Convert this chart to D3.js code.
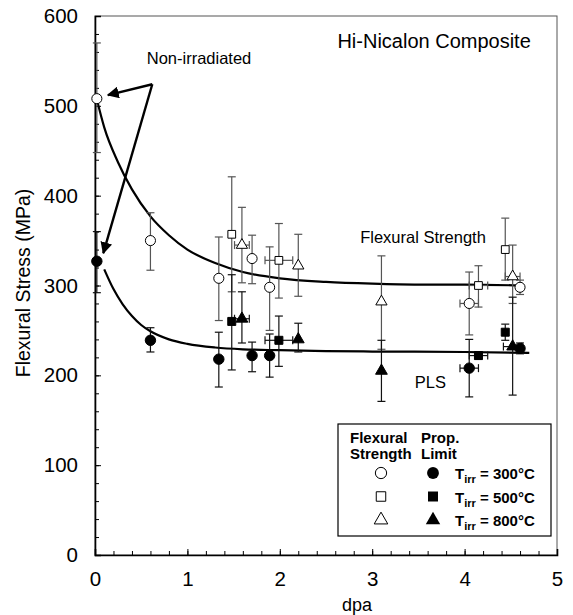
<!DOCTYPE html>
<html>
<head>
<meta charset="utf-8">
<script src="https://cdn.jsdelivr.net/npm/d3@7"></script>
<style>
  body { margin: 0; background: #fff; }
  text { font-family: "Liberation Sans", Arial, sans-serif; }
</style>
</head>
<body>
<div id="plot"></div>
<script>
// data: [dpa, stress, error low, error high]
var fsCircle = [[0.02,508,448,570],[0.6,350,317,381],[1.34,308,261,354],[1.7,330,302,356],[1.89,298,250,343],[4.05,280,245,315],[4.6,298,290,306]];
var fsCircleXerr = [0,0,0,0,0,0.1,0];
var plCircle = [[0.02,327,292,360],[0.6,239,226,253],[1.34,218,187,248],[1.7,222,204,237],[1.89,222,198,246],[4.05,208,176,240],[4.6,230,224,236]];
var plCircleXerr = [0,0,0,0,0,0.1,0];
var fsSquare = [[1.48,357,293,421],[1.99,328,286,369],[4.15,300,276,322],[4.44,340,306,375]];
var fsSquareXerr = [0,0.15,0.1,0];
var plSquare = [[1.48,260,206,312],[1.99,239,210,266],[4.15,222,218,226],[4.44,248,239,257]];
var plSquareXerr = [0,0.15,0.1,0];
var fsTri = [[1.59,345,303,387],[2.2,322,288,357],[3.1,282,229,333],[4.52,310,280,345]];
var fsTriXerr = [0.08,0,0,0.08];
var plTri = [[1.59,263,236,293],[2.2,240,226,258],[3.1,205,171,239],[4.52,232,178,287]];
var plTriXerr = [0.08,0,0,0.1];

// fitted curves, points
var fsCurveX = [0.02,0.1,0.25,0.4,0.6,0.8,1.0,1.3,1.6,2.0,2.5,3.0,3.5,4.0,4.6];
var fsCurveY = [507,476,437,407,377,356,340,325,315,308,304,302,301,301,300];
var plCurveX = [0.1,0.2,0.3,0.4,0.5,0.6,0.8,1.0,1.3,1.6,2.0,2.5,3.0,4.0,4.7];
var plCurveY = [318,296,279,266,256,249,240,235,231,229,228,227,226.5,226,225];

var xTicks = [0,1,2,3,4,5];
var yTicks = [0,100,200,300,400,500,600];
var legendRows = ["300°C","500°C","800°C"];

// set the dimensions and margins of the graph
var margin = {top: 16, right: 16, bottom: 60, left: 95},
    width = 573 - margin.left - margin.right,
    height = 615 - margin.top - margin.bottom;

var x = d3.scaleLinear().domain([0, 5]).range([0, width]);
var y = d3.scaleLinear().domain([0, 600]).range([height, 0]);

var svg = d3.select("#plot").append("svg")
    .attr("width", 573)
    .attr("height", 615)
  .append("g")
    .attr("transform", "translate(" + margin.left + "," + margin.top + ")");

// frame (top and right)
svg.append("rect")
    .attr("width", width).attr("height", height)
    .attr("fill", "none").attr("stroke", "#555").attr("stroke-width", 1);

// axes with inner ticks
var yMinor = d3.range(0, 601, 20);
svg.append("g")
    .call(d3.axisLeft(y).tickValues(yMinor).tickSize(-4).tickFormat(""))
    .call(function(g) { g.select(".domain").remove(); });
svg.append("g")
    .call(d3.axisLeft(y).tickValues(yTicks).tickSize(-6).tickPadding(17))
    .call(function(g) {
      g.select(".domain").attr("stroke-width", 1.6);
      g.selectAll("text").attr("font-size", 20.5).attr("fill", "#000");
    });

var xMinor = d3.range(0, 5.01, 0.2);
svg.append("g")
    .attr("transform", "translate(0," + height + ")")
    .call(d3.axisBottom(x).tickValues(xMinor).tickSize(-4).tickFormat(""))
    .call(function(g) { g.select(".domain").remove(); });
svg.append("g")
    .attr("transform", "translate(0," + height + ")")
    .call(d3.axisBottom(x).tickValues(xTicks).tickSize(-6).tickPadding(16).tickFormat(d3.format("d")))
    .call(function(g) {
      g.select(".domain").attr("stroke-width", 1.6);
      g.selectAll("text").attr("font-size", 20.5).attr("fill", "#000");
    });

// axis titles
svg.append("text")
    .attr("x", 262).attr("y", height + 56)
    .attr("text-anchor", "middle").attr("font-size", 18)
    .text("dpa");
svg.append("text")
    .attr("transform", "translate(" + (30 - margin.left) + "," + (267) + ") rotate(-90)")
    .attr("text-anchor", "middle").attr("font-size", 19.5)
    .text("Flexural Stress (MPa)");

// fit curves
var line = d3.line()
    .x(function(d) { return x(d[0]); })
    .y(function(d) { return y(d[1]); })
    .curve(d3.curveMonotoneX);
svg.append("path")
    .datum(fsCurveX.map(function(v, i) { return [v, fsCurveY[i]]; }))
    .attr("d", line).attr("fill", "none").attr("stroke", "#000").attr("stroke-width", 2.2);
svg.append("path")
    .datum(plCurveX.map(function(v, i) { return [v, plCurveY[i]]; }))
    .attr("d", line).attr("fill", "none").attr("stroke", "#000").attr("stroke-width", 2.2);

// series
var series = [
  {data: fsSquare, xerr: fsSquareXerr, type: d3.symbolSquare, size: 60, fill: "#fff", bar: "#555"},
  {data: fsTri, xerr: fsTriXerr, type: d3.symbolTriangle, size: 55, fill: "#fff", bar: "#555"},
  {data: fsCircle, xerr: fsCircleXerr, type: d3.symbolCircle, size: 80, fill: "#fff", bar: "#555"},
  {data: plSquare, xerr: plSquareXerr, type: d3.symbolSquare, size: 64, fill: "#000", bar: "#111"},
  {data: plTri, xerr: plTriXerr, type: d3.symbolTriangle, size: 60, fill: "#000", bar: "#111"},
  {data: plCircle, xerr: plCircleXerr, type: d3.symbolCircle, size: 85, fill: "#000", bar: "#111"}
];

var cap = 4;
series.forEach(function(s) {
  var g = svg.append("g").attr("stroke", s.bar).attr("stroke-width", 1.2).attr("fill", "none");
  s.data.forEach(function(d, i) {
    var cx = x(d[0]);
    g.append("line").attr("x1", cx).attr("x2", cx).attr("y1", y(d[2])).attr("y2", y(d[3]));
    g.append("line").attr("x1", cx - cap).attr("x2", cx + cap).attr("y1", y(d[2])).attr("y2", y(d[2]));
    g.append("line").attr("x1", cx - cap).attr("x2", cx + cap).attr("y1", y(d[3])).attr("y2", y(d[3]));
    var e = s.xerr[i];
    if (e > 0) {
      var cy = y(d[1]);
      g.append("line").attr("x1", x(d[0] - e)).attr("x2", x(d[0] + e)).attr("y1", cy).attr("y2", cy);
      g.append("line").attr("x1", x(d[0] - e)).attr("x2", x(d[0] - e)).attr("y1", cy - cap).attr("y2", cy + cap);
      g.append("line").attr("x1", x(d[0] + e)).attr("x2", x(d[0] + e)).attr("y1", cy - cap).attr("y2", cy + cap);
    }
  });
});
series.forEach(function(s) {
  svg.append("g").selectAll("path")
      .data(s.data)
    .enter().append("path")
      .attr("d", d3.symbol().type(s.type).size(s.size))
      .attr("transform", function(d) { return "translate(" + x(d[0]) + "," + y(d[1]) + ")"; })
      .attr("fill", s.fill).attr("stroke", "#000").attr("stroke-width", 1);
});

// annotations
svg.append("text").attr("x", x(3.67)).attr("y", y(564)).attr("text-anchor", "middle")
    .attr("font-size", 20).text("Hi-Nicalon Composite");
svg.append("text").attr("x", x(0.56)).attr("y", y(547)).attr("font-size", 16.5).text("Non-irradiated");
svg.append("text").attr("x", x(2.87)).attr("y", y(347)).attr("font-size", 16.5).text("Flexural Strength");
svg.append("text").attr("x", x(3.46)).attr("y", y(186)).attr("font-size", 16.5).text("PLS");

var defs = d3.select("svg").append("defs");
defs.append("marker").attr("id", "arr")
    .attr("viewBox", "0 0 10 10").attr("refX", 9).attr("refY", 5)
    .attr("markerWidth", 5).attr("markerHeight", 5).attr("orient", "auto")
  .append("path").attr("d", "M0,0 L10,5 L0,10 z").attr("fill", "#000");

var vertex = [0.62, 524];
[[0.14, 512], [0.09, 336]].forEach(function(t) {
  svg.append("line")
      .attr("x1", x(vertex[0])).attr("y1", y(vertex[1]))
      .attr("x2", x(t[0])).attr("y2", y(t[1]))
      .attr("stroke", "#000").attr("stroke-width", 2.4)
      .attr("marker-end", "url(#arr)");
});

// legend
var lg = svg.append("g").attr("transform", "translate(" + (338 - margin.left) + "," + (424 - margin.top) + ")");
lg.append("rect").attr("width", 213).attr("height", 112)
    .attr("fill", "#fff").attr("stroke", "#000").attr("stroke-width", 1.2);
var lt = lg.append("g").attr("font-size", 15).attr("font-weight", "bold");
lt.append("text").attr("x", 12).attr("y", 19).text("Flexural");
lt.append("text").attr("x", 12).attr("y", 35).text("Strength");
lt.append("text").attr("x", 83).attr("y", 19).text("Prop.");
lt.append("text").attr("x", 83).attr("y", 35).text("Limit");
var legendTypes = [d3.symbolCircle, d3.symbolSquare, d3.symbolTriangle];
var legendSizes = [100, 90, 80];
legendRows.forEach(function(r, i) {
  var ry = 49 + i * 23.5;
  lg.append("path").attr("d", d3.symbol().type(legendTypes[i]).size(legendSizes[i]))
      .attr("transform", "translate(43," + ry + ")")
      .attr("fill", "#fff").attr("stroke", "#000").attr("stroke-width", 1);
  lg.append("path").attr("d", d3.symbol().type(legendTypes[i]).size(legendSizes[i] + 10))
      .attr("transform", "translate(95," + ry + ")")
      .attr("fill", "#000");
  var t = lt.append("text").attr("x", 117).attr("y", ry + 6);
  t.append("tspan").text("T");
  t.append("tspan").attr("font-size", 11).attr("dy", 4).text("irr");
  t.append("tspan").attr("dy", -4).text(" = " + r);
});
</script>
</body>
</html>
